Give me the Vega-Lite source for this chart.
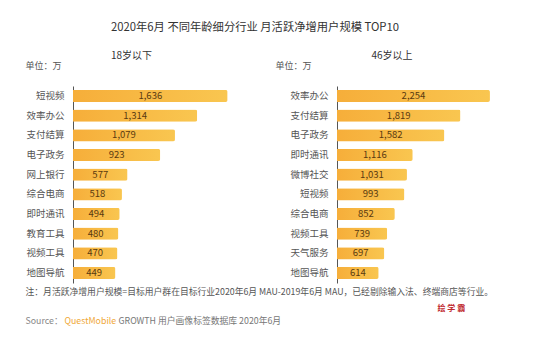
{
  "$schema": "https://vega.github.io/schema/vega-lite/v6.json",
  "background": "white",
  "padding": {"left": 25, "top": 21, "right": 22, "bottom": 12},
  "title": {"text": "2020年6月 不同年龄细分行业 月活跃净增用户规模 TOP10", "fontSize": 11.3, "fontWeight": "normal", "color": "#333333", "anchor": "middle", "dx": -21, "offset": 18},
  "config": {
    "font": "Noto Sans CJK SC",
    "view": {"stroke": null},
    "axis": {"grid": false}
  },
  "datasets": {
    "young": [
      {"cat": "短视频", "v": 1636}, {"cat": "效率办公", "v": 1314}, {"cat": "支付结算", "v": 1079},
      {"cat": "电子政务", "v": 923}, {"cat": "网上银行", "v": 577}, {"cat": "综合电商", "v": 518},
      {"cat": "即时通讯", "v": 494}, {"cat": "教育工具", "v": 480}, {"cat": "视频工具", "v": 470},
      {"cat": "地图导航", "v": 449}
    ],
    "old": [
      {"cat": "效率办公", "v": 2254}, {"cat": "支付结算", "v": 1819}, {"cat": "电子政务", "v": 1582},
      {"cat": "即时通讯", "v": 1116}, {"cat": "微博社交", "v": 1031}, {"cat": "短视频", "v": 993},
      {"cat": "综合电商", "v": 852}, {"cat": "视频工具", "v": 739}, {"cat": "天气服务", "v": 697},
      {"cat": "地图导航", "v": 614}
    ]
  },
  "hconcat": [
    {
      "data": {"name": "young"},
      "width": 189,
      "height": 197,
      "title": {"text": "18岁以下", "fontSize": 10, "fontWeight": "normal", "color": "#333333", "anchor": "middle", "dx": -36, "offset": 0},
      "encoding": {
        "y": {"field": "cat", "type": "nominal", "sort": null,
          "scale": {"paddingInner": 0.38, "paddingOuter": 0.2},
          "axis": {"title": "单位：万", "titleAngle": 0, "titleX": -48, "titleY": -21, "titleAlign": "left", "titleBaseline": "middle", "titleFontSize": 9, "titleFontWeight": "normal", "titleColor": "#555555",
            "ticks": false, "labelPadding": 9, "labelFontSize": 9.5, "labelColor": "#555555", "domainColor": "#555555", "domainWidth": 1}}
      },
      "layer": [
        {
          "mark": {"type": "bar", "cornerRadiusEnd": 2, "color": {"gradient": "linear", "x1": 0, "x2": 1, "y1": 0, "y2": 0, "stops": [{"offset": 0, "color": "#F6AE3A"}, {"offset": 1, "color": "#F9C650"}]}},
          "encoding": {
            "x": {"field": "v", "type": "quantitative", "scale": {"domain": [0, 2000]},
              "axis": {"orient": "bottom", "labels": false, "ticks": false, "domain": false, "grid": false,
                "title": "注：月活跃净增用户规模=目标用户群在目标行业2020年6月 MAU-2019年6月 MAU，已经剔除输入法、终端商店等行业。",
                "titleX": -48, "titleY": 8, "titleAlign": "left", "titleBaseline": "middle", "titleFontSize": 8.8, "titleFontWeight": "normal", "titleColor": "#555555"}}
          }
        },
        {
          "mark": {"type": "text", "fontSize": 9.5, "color": "#5A3A10"},
          "encoding": {
            "x": {"field": "v", "type": "quantitative", "scale": {"domain": [0, 4000]},
              "axis": {"orient": "top", "labels": false, "ticks": false, "domain": false, "grid": false,
                "title": "Source：", "titleX": -48, "titleY": 234, "titleAlign": "left", "titleBaseline": "middle", "titleFontSize": 8.8, "titleFontWeight": "normal", "titleColor": "#888888"}},
            "text": {"field": "v", "type": "quantitative", "format": ","}
          }
        }
      ],
      "resolve": {"scale": {"x": "independent"}, "axis": {"x": "independent"}}
    },
    {
      "data": {"name": "old"},
      "width": 190,
      "height": 197,
      "title": {"text": "46岁以上", "fontSize": 10, "fontWeight": "normal", "color": "#333333", "anchor": "middle", "dx": -40, "offset": 0},
      "encoding": {
        "y": {"field": "cat", "type": "nominal", "sort": null,
          "scale": {"paddingInner": 0.38, "paddingOuter": 0.2}}
      },
      "layer": [
        {
          "mark": {"type": "bar", "cornerRadiusEnd": 2, "color": {"gradient": "linear", "x1": 0, "x2": 1, "y1": 0, "y2": 0, "stops": [{"offset": 0, "color": "#F6AE3A"}, {"offset": 1, "color": "#F9C650"}]}},
          "encoding": {
            "y": {"field": "cat", "type": "nominal", "sort": null,
              "scale": {"paddingInner": 0.38, "paddingOuter": 0.2},
              "axis": {"orient": "left", "title": "单位：万", "titleAngle": 0, "titleX": -62, "titleY": -21, "titleAlign": "left", "titleBaseline": "middle", "titleFontSize": 9, "titleFontWeight": "normal", "titleColor": "#555555",
                "ticks": false, "labelPadding": 9, "labelFontSize": 9.5, "labelColor": "#555555", "domainColor": "#555555", "domainWidth": 1}},
            "x": {"field": "v", "type": "quantitative", "scale": {"domain": [0, 2800]},
              "axis": {"orient": "bottom", "labels": false, "ticks": false, "domain": false, "grid": false,
                "title": "QuestMobile", "titleX": -273, "titleY": 37, "titleAlign": "left", "titleBaseline": "middle", "titleFontSize": 8.8, "titleFontWeight": "normal", "titleColor": "#F0A838"}}
          }
        },
        {
          "mark": {"type": "text", "fontSize": 9.5, "color": "#5A3A10"},
          "encoding": {
            "y": {"field": "cat", "type": "nominal", "sort": null,
              "scale": {"paddingInner": 0.38, "paddingOuter": 0.2},
              "axis": {"orient": "right", "labels": false, "ticks": false, "domain": false,
                "title": "绘 学 霸", "titleAngle": 0, "titleX": -90, "titleY": 222, "titleAlign": "left", "titleBaseline": "middle", "titleFontSize": 8, "titleFontWeight": "bold", "titleColor": "#C0282D"}},
            "x": {"field": "v", "type": "quantitative", "scale": {"domain": [0, 5600]},
              "axis": {"orient": "top", "labels": false, "ticks": false, "domain": false, "grid": false,
                "title": "GROWTH 用户画像标签数据库 2020年6月", "titleX": -219, "titleY": 234, "titleAlign": "left", "titleBaseline": "middle", "titleFontSize": 8.8, "titleFontWeight": "normal", "titleColor": "#777777"}},
            "text": {"field": "v", "type": "quantitative", "format": ","}
          }
        }
      ],
      "resolve": {"scale": {"x": "independent", "y": "independent"}, "axis": {"x": "independent", "y": "independent"}}
    }
  ],
  "spacing": 75,
  "bounds": "flush"
}
